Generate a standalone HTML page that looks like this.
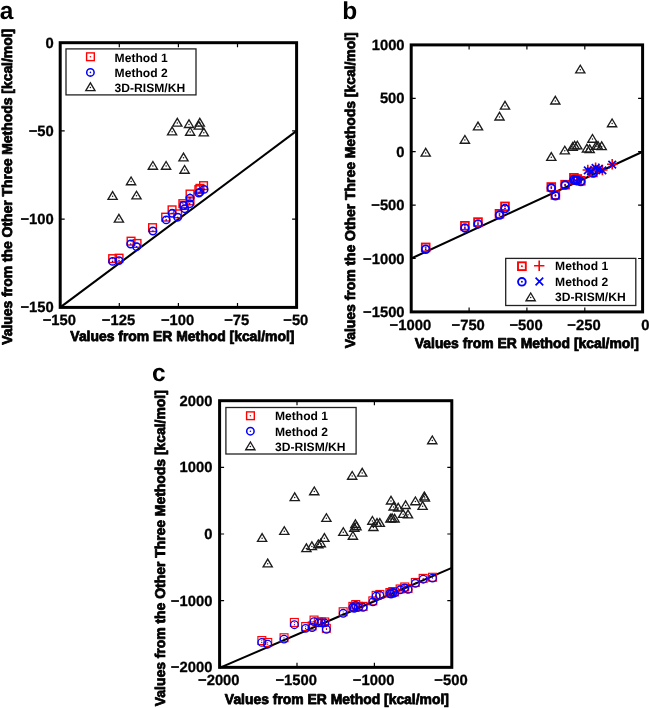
<!DOCTYPE html>
<html lang="en">
<head>
<meta charset="utf-8">
<title>Comparison of methods</title>
<style>
html,body{margin:0;padding:0;background:#fff;}
svg{display:block;font-family:"Liberation Sans", sans-serif;fill:#000;text-rendering:geometricPrecision;}
</style>
</head>
<body>
<svg width="649" height="708" viewBox="0 0 649 708">
<rect width="649" height="708" fill="#fff"/>
<g style="opacity:0.999">
<g id="panel-a">
<path d="M60.2 307.4L296.6 130.9" stroke="#000" stroke-width="2.1" fill="none"/>
<rect x="108.8" y="254.8" width="7.7" height="7.7" fill="none" stroke="#f00" stroke-width="1.4"/><circle cx="112.6" cy="258.6" r="0.8" fill="#f00"/>
<rect x="115.2" y="254.3" width="7.7" height="7.7" fill="none" stroke="#f00" stroke-width="1.4"/><circle cx="119.0" cy="258.2" r="0.8" fill="#f00"/>
<rect x="127.2" y="237.3" width="7.7" height="7.7" fill="none" stroke="#f00" stroke-width="1.4"/><circle cx="131.1" cy="241.2" r="0.8" fill="#f00"/>
<rect x="133.2" y="239.6" width="7.7" height="7.7" fill="none" stroke="#f00" stroke-width="1.4"/><circle cx="137.0" cy="243.4" r="0.8" fill="#f00"/>
<rect x="148.7" y="223.8" width="7.7" height="7.7" fill="none" stroke="#f00" stroke-width="1.4"/><circle cx="152.5" cy="227.7" r="0.8" fill="#f00"/>
<rect x="161.8" y="213.3" width="7.7" height="7.7" fill="none" stroke="#f00" stroke-width="1.4"/><circle cx="165.6" cy="217.2" r="0.8" fill="#f00"/>
<rect x="168.2" y="206.0" width="7.7" height="7.7" fill="none" stroke="#f00" stroke-width="1.4"/><circle cx="172.1" cy="209.8" r="0.8" fill="#f00"/>
<rect x="173.8" y="210.0" width="7.7" height="7.7" fill="none" stroke="#f00" stroke-width="1.4"/><circle cx="177.7" cy="213.8" r="0.8" fill="#f00"/>
<rect x="179.0" y="199.8" width="7.7" height="7.7" fill="none" stroke="#f00" stroke-width="1.4"/><circle cx="182.8" cy="203.7" r="0.8" fill="#f00"/>
<rect x="180.2" y="201.7" width="7.7" height="7.7" fill="none" stroke="#f00" stroke-width="1.4"/><circle cx="184.1" cy="205.5" r="0.8" fill="#f00"/>
<rect x="186.2" y="190.2" width="7.7" height="7.7" fill="none" stroke="#f00" stroke-width="1.4"/><circle cx="190.0" cy="194.0" r="0.8" fill="#f00"/>
<rect x="186.2" y="197.1" width="7.7" height="7.7" fill="none" stroke="#f00" stroke-width="1.4"/><circle cx="190.0" cy="200.9" r="0.8" fill="#f00"/>
<rect x="195.0" y="185.8" width="7.7" height="7.7" fill="none" stroke="#f00" stroke-width="1.4"/><circle cx="198.8" cy="189.6" r="0.8" fill="#f00"/>
<rect x="196.1" y="184.5" width="7.7" height="7.7" fill="none" stroke="#f00" stroke-width="1.4"/><circle cx="199.9" cy="188.3" r="0.8" fill="#f00"/>
<rect x="199.7" y="181.8" width="7.7" height="7.7" fill="none" stroke="#f00" stroke-width="1.4"/><circle cx="203.5" cy="185.7" r="0.8" fill="#f00"/>
<circle cx="112.6" cy="261.4" r="3.7" fill="none" stroke="#00f" stroke-width="1.55"/><circle cx="112.6" cy="261.4" r="0.8" fill="#00f"/>
<circle cx="119.0" cy="260.6" r="3.7" fill="none" stroke="#00f" stroke-width="1.55"/><circle cx="119.0" cy="260.6" r="0.8" fill="#00f"/>
<circle cx="130.7" cy="244.0" r="3.7" fill="none" stroke="#00f" stroke-width="1.55"/><circle cx="130.7" cy="244.0" r="0.8" fill="#00f"/>
<circle cx="136.6" cy="246.7" r="3.7" fill="none" stroke="#00f" stroke-width="1.55"/><circle cx="136.6" cy="246.7" r="0.8" fill="#00f"/>
<circle cx="152.9" cy="231.0" r="3.7" fill="none" stroke="#00f" stroke-width="1.55"/><circle cx="152.9" cy="231.0" r="0.8" fill="#00f"/>
<circle cx="166.2" cy="219.9" r="3.7" fill="none" stroke="#00f" stroke-width="1.55"/><circle cx="166.2" cy="219.9" r="0.8" fill="#00f"/>
<circle cx="172.1" cy="213.3" r="3.7" fill="none" stroke="#00f" stroke-width="1.55"/><circle cx="172.1" cy="213.3" r="0.8" fill="#00f"/>
<circle cx="177.7" cy="217.2" r="3.7" fill="none" stroke="#00f" stroke-width="1.55"/><circle cx="177.7" cy="217.2" r="0.8" fill="#00f"/>
<circle cx="183.6" cy="205.5" r="3.7" fill="none" stroke="#00f" stroke-width="1.55"/><circle cx="183.6" cy="205.5" r="0.8" fill="#00f"/>
<circle cx="184.7" cy="208.7" r="3.7" fill="none" stroke="#00f" stroke-width="1.55"/><circle cx="184.7" cy="208.7" r="0.8" fill="#00f"/>
<circle cx="190.0" cy="198.1" r="3.7" fill="none" stroke="#00f" stroke-width="1.55"/><circle cx="190.0" cy="198.1" r="0.8" fill="#00f"/>
<circle cx="189.7" cy="203.7" r="3.7" fill="none" stroke="#00f" stroke-width="1.55"/><circle cx="189.7" cy="203.7" r="0.8" fill="#00f"/>
<circle cx="198.8" cy="193.0" r="3.7" fill="none" stroke="#00f" stroke-width="1.55"/><circle cx="198.8" cy="193.0" r="0.8" fill="#00f"/>
<circle cx="199.9" cy="192.2" r="3.7" fill="none" stroke="#00f" stroke-width="1.55"/><circle cx="199.9" cy="192.2" r="0.8" fill="#00f"/>
<circle cx="204.1" cy="189.4" r="3.7" fill="none" stroke="#00f" stroke-width="1.55"/><circle cx="204.1" cy="189.4" r="0.8" fill="#00f"/>
<path d="M172.7 126.1L177.3 118.4L181.9 126.1Z" fill="none" stroke="#1c1c1c" stroke-width="1.35"/><circle cx="177.3" cy="123.0" r="0.75" fill="#1c1c1c"/>
<path d="M184.4 127.5L189.0 119.8L193.6 127.5Z" fill="none" stroke="#1c1c1c" stroke-width="1.35"/><circle cx="189.0" cy="124.4" r="0.75" fill="#1c1c1c"/>
<path d="M195.2 126.1L199.8 118.4L204.4 126.1Z" fill="none" stroke="#1c1c1c" stroke-width="1.35"/><circle cx="199.8" cy="123.0" r="0.75" fill="#1c1c1c"/>
<path d="M194.2 129.1L198.8 121.4L203.4 129.1Z" fill="none" stroke="#1c1c1c" stroke-width="1.35"/><circle cx="198.8" cy="126.0" r="0.75" fill="#1c1c1c"/>
<path d="M167.5 134.8L172.1 127.1L176.7 134.8Z" fill="none" stroke="#1c1c1c" stroke-width="1.35"/><circle cx="172.1" cy="131.7" r="0.75" fill="#1c1c1c"/>
<path d="M185.6 135.2L190.2 127.5L194.8 135.2Z" fill="none" stroke="#1c1c1c" stroke-width="1.35"/><circle cx="190.2" cy="132.1" r="0.75" fill="#1c1c1c"/>
<path d="M199.2 135.8L203.8 128.1L208.4 135.8Z" fill="none" stroke="#1c1c1c" stroke-width="1.35"/><circle cx="203.8" cy="132.7" r="0.75" fill="#1c1c1c"/>
<path d="M178.9 160.8L183.5 153.1L188.1 160.8Z" fill="none" stroke="#1c1c1c" stroke-width="1.35"/><circle cx="183.5" cy="157.7" r="0.75" fill="#1c1c1c"/>
<path d="M148.3 169.2L152.9 161.5L157.5 169.2Z" fill="none" stroke="#1c1c1c" stroke-width="1.35"/><circle cx="152.9" cy="166.1" r="0.75" fill="#1c1c1c"/>
<path d="M161.5 169.2L166.1 161.5L170.7 169.2Z" fill="none" stroke="#1c1c1c" stroke-width="1.35"/><circle cx="166.1" cy="166.1" r="0.75" fill="#1c1c1c"/>
<path d="M180.0 173.2L184.6 165.5L189.2 173.2Z" fill="none" stroke="#1c1c1c" stroke-width="1.35"/><circle cx="184.6" cy="170.1" r="0.75" fill="#1c1c1c"/>
<path d="M126.5 184.7L131.1 177.0L135.7 184.7Z" fill="none" stroke="#1c1c1c" stroke-width="1.35"/><circle cx="131.1" cy="181.6" r="0.75" fill="#1c1c1c"/>
<path d="M108.0 199.3L112.6 191.6L117.2 199.3Z" fill="none" stroke="#1c1c1c" stroke-width="1.35"/><circle cx="112.6" cy="196.2" r="0.75" fill="#1c1c1c"/>
<path d="M131.9 198.9L136.5 191.2L141.1 198.9Z" fill="none" stroke="#1c1c1c" stroke-width="1.35"/><circle cx="136.5" cy="195.8" r="0.75" fill="#1c1c1c"/>
<path d="M114.3 222.1L118.9 214.4L123.5 222.1Z" fill="none" stroke="#1c1c1c" stroke-width="1.35"/><circle cx="118.9" cy="219.0" r="0.75" fill="#1c1c1c"/>
<rect x="60.2" y="42.7" width="236.40000000000003" height="264.7" fill="none" stroke="#000" stroke-width="3.0"/><path d="M119.3 307.4v-4.5M119.3 42.7v4.5M178.4 307.4v-4.5M178.4 42.7v4.5M237.5 307.4v-4.5M237.5 42.7v4.5M60.2 130.9h4.5M296.6 130.9h-4.5M60.2 219.2h4.5M296.6 219.2h-4.5" stroke="#000" stroke-width="1.2" fill="none"/>
<rect x="66.0" y="48.9" width="130.0" height="46.0" fill="none" stroke="#222" stroke-width="1.3"/>
<rect x="86.6" y="52.9" width="7.7" height="7.7" fill="none" stroke="#f00" stroke-width="1.4"/><circle cx="90.4" cy="56.7" r="0.8" fill="#f00"/>
<circle cx="90.4" cy="72.4" r="3.7" fill="none" stroke="#00f" stroke-width="1.55"/><circle cx="90.4" cy="72.4" r="0.8" fill="#00f"/>
<path d="M85.8 90.6L90.4 82.9L95.0 90.6Z" fill="none" stroke="#1c1c1c" stroke-width="1.35"/><circle cx="90.4" cy="87.5" r="0.75" fill="#1c1c1c"/>
<text x="114.6" y="61.5" font-size="12.1" text-anchor="start" font-weight="bold">Method 1</text>
<text x="114.6" y="76.6" font-size="12.1" text-anchor="start" font-weight="bold">Method 2</text>
<text x="114.6" y="91.8" font-size="12.1" text-anchor="start" font-weight="bold">3D-RISM/KH</text>
<text x="59.4" y="325.0" font-size="14.8" text-anchor="middle" font-weight="bold" stroke="#000" stroke-width="0.3" stroke-linejoin="round">−150</text>
<text x="118.5" y="325.0" font-size="14.8" text-anchor="middle" font-weight="bold" stroke="#000" stroke-width="0.3" stroke-linejoin="round">−125</text>
<text x="177.6" y="325.0" font-size="14.8" text-anchor="middle" font-weight="bold" stroke="#000" stroke-width="0.3" stroke-linejoin="round">−100</text>
<text x="236.7" y="325.0" font-size="14.8" text-anchor="middle" font-weight="bold" stroke="#000" stroke-width="0.3" stroke-linejoin="round">−75</text>
<text x="295.8" y="325.0" font-size="14.8" text-anchor="middle" font-weight="bold" stroke="#000" stroke-width="0.3" stroke-linejoin="round">−50</text>
<text x="53.8" y="47.7" font-size="14.8" text-anchor="end" font-weight="bold" stroke="#000" stroke-width="0.3" stroke-linejoin="round">0</text>
<text x="53.8" y="135.9" font-size="14.8" text-anchor="end" font-weight="bold" stroke="#000" stroke-width="0.3" stroke-linejoin="round">−50</text>
<text x="53.8" y="224.2" font-size="14.8" text-anchor="end" font-weight="bold" stroke="#000" stroke-width="0.3" stroke-linejoin="round">−100</text>
<text x="53.8" y="312.4" font-size="14.8" text-anchor="end" font-weight="bold" stroke="#000" stroke-width="0.3" stroke-linejoin="round">−150</text>
<text transform="translate(182.4 340.9) scale(0.98 1)" font-size="14.2" text-anchor="middle" font-weight="bold" stroke="#000" stroke-width="0.8" stroke-linejoin="round">Values from ER Method [kcal/mol]</text>
<text transform="translate(12.4 186.8) rotate(-90) scale(0.98 1)" font-size="14.2" text-anchor="middle" font-weight="bold" stroke="#000" stroke-width="0.8" stroke-linejoin="round">Values from the Other Three Methods [kcal/mol]</text>
<text x="-0.3" y="18.6" font-size="24.5" text-anchor="start" font-weight="bold">a</text>
</g>
<g id="panel-b">
<path d="M411.2 258.5L642.6 151.7" stroke="#000" stroke-width="2.1" fill="none"/>
<rect x="421.8" y="243.5" width="7.8" height="7.8" fill="none" stroke="#f00" stroke-width="1.8"/><circle cx="425.7" cy="247.4" r="0.95" fill="#f00"/>
<rect x="461.0" y="221.9" width="7.8" height="7.8" fill="none" stroke="#f00" stroke-width="1.8"/><circle cx="464.9" cy="225.8" r="0.95" fill="#f00"/>
<rect x="474.1" y="218.2" width="7.8" height="7.8" fill="none" stroke="#f00" stroke-width="1.8"/><circle cx="478.0" cy="222.1" r="0.95" fill="#f00"/>
<rect x="495.6" y="209.9" width="7.8" height="7.8" fill="none" stroke="#f00" stroke-width="1.8"/><circle cx="499.5" cy="213.8" r="0.95" fill="#f00"/>
<rect x="501.1" y="202.5" width="7.8" height="7.8" fill="none" stroke="#f00" stroke-width="1.8"/><circle cx="505.0" cy="206.4" r="0.95" fill="#f00"/>
<rect x="547.4" y="183.1" width="7.8" height="7.8" fill="none" stroke="#f00" stroke-width="1.8"/><circle cx="551.3" cy="187.0" r="0.95" fill="#f00"/>
<rect x="551.5" y="191.1" width="7.8" height="7.8" fill="none" stroke="#f00" stroke-width="1.8"/><circle cx="555.4" cy="195.0" r="0.95" fill="#f00"/>
<rect x="561.2" y="180.8" width="7.8" height="7.8" fill="none" stroke="#f00" stroke-width="1.8"/><circle cx="565.1" cy="184.7" r="0.95" fill="#f00"/>
<rect x="570.0" y="173.9" width="7.8" height="7.8" fill="none" stroke="#f00" stroke-width="1.8"/><circle cx="573.9" cy="177.8" r="0.95" fill="#f00"/>
<rect x="570.8" y="175.9" width="7.8" height="7.8" fill="none" stroke="#f00" stroke-width="1.8"/><circle cx="574.7" cy="179.8" r="0.95" fill="#f00"/>
<rect x="576.9" y="176.9" width="7.8" height="7.8" fill="none" stroke="#f00" stroke-width="1.8"/><circle cx="580.8" cy="180.8" r="0.95" fill="#f00"/>
<rect x="573.4" y="175.1" width="7.8" height="7.8" fill="none" stroke="#f00" stroke-width="1.8"/><circle cx="577.3" cy="179.0" r="0.95" fill="#f00"/>
<rect x="589.0" y="168.6" width="7.8" height="7.8" fill="none" stroke="#f00" stroke-width="1.8"/><circle cx="592.9" cy="172.5" r="0.95" fill="#f00"/>
<circle cx="425.7" cy="249.3" r="3.85" fill="none" stroke="#00f" stroke-width="1.8"/><circle cx="425.7" cy="249.3" r="0.95" fill="#00f"/>
<circle cx="464.9" cy="228.0" r="3.85" fill="none" stroke="#00f" stroke-width="1.8"/><circle cx="464.9" cy="228.0" r="0.95" fill="#00f"/>
<circle cx="478.0" cy="224.0" r="3.85" fill="none" stroke="#00f" stroke-width="1.8"/><circle cx="478.0" cy="224.0" r="0.95" fill="#00f"/>
<circle cx="499.5" cy="215.1" r="3.85" fill="none" stroke="#00f" stroke-width="1.8"/><circle cx="499.5" cy="215.1" r="0.95" fill="#00f"/>
<circle cx="505.0" cy="208.6" r="3.85" fill="none" stroke="#00f" stroke-width="1.8"/><circle cx="505.0" cy="208.6" r="0.95" fill="#00f"/>
<circle cx="551.3" cy="188.1" r="3.85" fill="none" stroke="#00f" stroke-width="1.8"/><circle cx="551.3" cy="188.1" r="0.95" fill="#00f"/>
<circle cx="555.4" cy="195.8" r="3.85" fill="none" stroke="#00f" stroke-width="1.8"/><circle cx="555.4" cy="195.8" r="0.95" fill="#00f"/>
<circle cx="565.1" cy="185.1" r="3.85" fill="none" stroke="#00f" stroke-width="1.8"/><circle cx="565.1" cy="185.1" r="0.95" fill="#00f"/>
<circle cx="573.9" cy="179.8" r="3.85" fill="none" stroke="#00f" stroke-width="1.8"/><circle cx="573.9" cy="179.8" r="0.95" fill="#00f"/>
<circle cx="575.5" cy="180.4" r="3.85" fill="none" stroke="#00f" stroke-width="1.8"/><circle cx="575.5" cy="180.4" r="0.95" fill="#00f"/>
<circle cx="580.8" cy="181.6" r="3.85" fill="none" stroke="#00f" stroke-width="1.8"/><circle cx="580.8" cy="181.6" r="0.95" fill="#00f"/>
<circle cx="577.3" cy="180.2" r="3.85" fill="none" stroke="#00f" stroke-width="1.8"/><circle cx="577.3" cy="180.2" r="0.95" fill="#00f"/>
<circle cx="593.2" cy="173.1" r="3.85" fill="none" stroke="#00f" stroke-width="1.8"/><circle cx="593.2" cy="173.1" r="0.95" fill="#00f"/>
<path d="M582.6 170.0H593.0M587.8 164.8V175.2" stroke="#f00" stroke-width="1.6" fill="none"/>
<path d="M585.8 171.0H596.2M591.0 165.8V176.2" stroke="#f00" stroke-width="1.6" fill="none"/>
<path d="M590.4 167.6H600.8M595.6 162.4V172.8" stroke="#f00" stroke-width="1.6" fill="none"/>
<path d="M593.6 168.6H604.0M598.8 163.4V173.8" stroke="#f00" stroke-width="1.6" fill="none"/>
<path d="M597.2 170.0H607.6M602.4 164.8V175.2" stroke="#f00" stroke-width="1.6" fill="none"/>
<path d="M607.0 164.2H617.4M612.2 159.0V169.4" stroke="#f00" stroke-width="1.6" fill="none"/>
<path d="M584.0 166.6L591.6 174.2M584.0 174.2L591.6 166.6" stroke="#00f" stroke-width="1.7" fill="none"/>
<path d="M587.2 167.6L594.8 175.2M587.2 175.2L594.8 167.6" stroke="#00f" stroke-width="1.7" fill="none"/>
<path d="M591.8 164.2L599.4 171.8M591.8 171.8L599.4 164.2" stroke="#00f" stroke-width="1.7" fill="none"/>
<path d="M595.0 165.2L602.6 172.8M595.0 172.8L602.6 165.2" stroke="#00f" stroke-width="1.7" fill="none"/>
<path d="M598.6 166.6L606.2 174.2M598.6 174.2L606.2 166.6" stroke="#00f" stroke-width="1.7" fill="none"/>
<path d="M608.4 160.8L616.0 168.4M608.4 168.4L616.0 160.8" stroke="#00f" stroke-width="1.7" fill="none"/>
<path d="M421.1 156.1L425.7 148.4L430.3 156.1Z" fill="none" stroke="#1c1c1c" stroke-width="1.35"/><circle cx="425.7" cy="153.0" r="0.75" fill="#1c1c1c"/>
<path d="M460.3 143.2L464.9 135.5L469.5 143.2Z" fill="none" stroke="#1c1c1c" stroke-width="1.35"/><circle cx="464.9" cy="140.1" r="0.75" fill="#1c1c1c"/>
<path d="M473.4 129.8L478.0 122.1L482.6 129.8Z" fill="none" stroke="#1c1c1c" stroke-width="1.35"/><circle cx="478.0" cy="126.7" r="0.75" fill="#1c1c1c"/>
<path d="M494.9 120.0L499.5 112.3L504.1 120.0Z" fill="none" stroke="#1c1c1c" stroke-width="1.35"/><circle cx="499.5" cy="116.9" r="0.75" fill="#1c1c1c"/>
<path d="M500.4 109.1L505.0 101.4L509.6 109.1Z" fill="none" stroke="#1c1c1c" stroke-width="1.35"/><circle cx="505.0" cy="106.0" r="0.75" fill="#1c1c1c"/>
<path d="M575.7 72.9L580.3 65.2L584.9 72.9Z" fill="none" stroke="#1c1c1c" stroke-width="1.35"/><circle cx="580.3" cy="69.8" r="0.75" fill="#1c1c1c"/>
<path d="M550.7 104.0L555.3 96.3L559.9 104.0Z" fill="none" stroke="#1c1c1c" stroke-width="1.35"/><circle cx="555.3" cy="100.9" r="0.75" fill="#1c1c1c"/>
<path d="M607.5 126.7L612.1 119.0L616.7 126.7Z" fill="none" stroke="#1c1c1c" stroke-width="1.35"/><circle cx="612.1" cy="123.6" r="0.75" fill="#1c1c1c"/>
<path d="M587.9 142.2L592.5 134.5L597.1 142.2Z" fill="none" stroke="#1c1c1c" stroke-width="1.35"/><circle cx="592.5" cy="139.1" r="0.75" fill="#1c1c1c"/>
<path d="M546.7 160.3L551.3 152.6L555.9 160.3Z" fill="none" stroke="#1c1c1c" stroke-width="1.35"/><circle cx="551.3" cy="157.2" r="0.75" fill="#1c1c1c"/>
<path d="M560.2 153.9L564.8 146.2L569.4 153.9Z" fill="none" stroke="#1c1c1c" stroke-width="1.35"/><circle cx="564.8" cy="150.8" r="0.75" fill="#1c1c1c"/>
<path d="M568.1 150.2L572.7 142.5L577.3 150.2Z" fill="none" stroke="#1c1c1c" stroke-width="1.35"/><circle cx="572.7" cy="147.1" r="0.75" fill="#1c1c1c"/>
<path d="M570.0 148.9L574.6 141.2L579.2 148.9Z" fill="none" stroke="#1c1c1c" stroke-width="1.35"/><circle cx="574.6" cy="145.8" r="0.75" fill="#1c1c1c"/>
<path d="M572.7 148.9L577.3 141.2L581.9 148.9Z" fill="none" stroke="#1c1c1c" stroke-width="1.35"/><circle cx="577.3" cy="145.8" r="0.75" fill="#1c1c1c"/>
<path d="M582.3 152.0L586.9 144.3L591.5 152.0Z" fill="none" stroke="#1c1c1c" stroke-width="1.35"/><circle cx="586.9" cy="148.9" r="0.75" fill="#1c1c1c"/>
<path d="M585.1 152.6L589.7 144.9L594.3 152.6Z" fill="none" stroke="#1c1c1c" stroke-width="1.35"/><circle cx="589.7" cy="149.5" r="0.75" fill="#1c1c1c"/>
<path d="M591.6 149.3L596.2 141.6L600.8 149.3Z" fill="none" stroke="#1c1c1c" stroke-width="1.35"/><circle cx="596.2" cy="146.2" r="0.75" fill="#1c1c1c"/>
<path d="M593.4 149.3L598.0 141.6L602.6 149.3Z" fill="none" stroke="#1c1c1c" stroke-width="1.35"/><circle cx="598.0" cy="146.2" r="0.75" fill="#1c1c1c"/>
<path d="M597.1 149.6L601.7 141.9L606.3 149.6Z" fill="none" stroke="#1c1c1c" stroke-width="1.35"/><circle cx="601.7" cy="146.5" r="0.75" fill="#1c1c1c"/>
<rect x="411.2" y="44.9" width="231.40000000000003" height="267.0" fill="none" stroke="#000" stroke-width="3.0"/><path d="M469.1 311.9v-4.5M469.1 44.9v4.5M526.9 311.9v-4.5M526.9 44.9v4.5M584.8 311.9v-4.5M584.8 44.9v4.5M411.2 98.3h4.5M642.6 98.3h-4.5M411.2 151.7h4.5M642.6 151.7h-4.5M411.2 205.1h4.5M642.6 205.1h-4.5M411.2 258.5h4.5M642.6 258.5h-4.5" stroke="#000" stroke-width="1.2" fill="none"/>
<rect x="505.7" y="258.4" width="130.1" height="47.1" fill="none" stroke="#222" stroke-width="1.3"/>
<rect x="518.0" y="262.3" width="7.8" height="7.8" fill="none" stroke="#f00" stroke-width="1.9"/><circle cx="521.9" cy="266.2" r="0.95" fill="#f00"/>
<path d="M534.0 265.7H544.4M539.2 260.5V270.9" stroke="#f00" stroke-width="1.6" fill="none"/>
<circle cx="521.9" cy="281.8" r="3.85" fill="none" stroke="#00f" stroke-width="1.9"/><circle cx="521.9" cy="281.8" r="0.95" fill="#00f"/>
<path d="M535.6 277.7L543.2 285.3M535.6 285.3L543.2 277.7" stroke="#00f" stroke-width="1.7" fill="none"/>
<path d="M526.1 300.7L530.7 293.0L535.3 300.7Z" fill="none" stroke="#1c1c1c" stroke-width="1.35"/><circle cx="530.7" cy="297.6" r="0.75" fill="#1c1c1c"/>
<text x="555.1" y="270.3" font-size="12.1" text-anchor="start" font-weight="bold">Method 1</text>
<text x="555.1" y="285.7" font-size="12.1" text-anchor="start" font-weight="bold">Method 2</text>
<text x="555.1" y="301.4" font-size="12.1" text-anchor="start" font-weight="bold">3D-RISM/KH</text>
<text x="410.4" y="329.5" font-size="14.8" text-anchor="middle" font-weight="bold" stroke="#000" stroke-width="0.3" stroke-linejoin="round">−1000</text>
<text x="468.2" y="329.5" font-size="14.8" text-anchor="middle" font-weight="bold" stroke="#000" stroke-width="0.3" stroke-linejoin="round">−750</text>
<text x="526.1" y="329.5" font-size="14.8" text-anchor="middle" font-weight="bold" stroke="#000" stroke-width="0.3" stroke-linejoin="round">−500</text>
<text x="584.0" y="329.5" font-size="14.8" text-anchor="middle" font-weight="bold" stroke="#000" stroke-width="0.3" stroke-linejoin="round">−250</text>
<text x="645.4" y="329.5" font-size="14.8" text-anchor="middle" font-weight="bold" stroke="#000" stroke-width="0.3" stroke-linejoin="round">0</text>
<text x="404.6" y="49.9" font-size="14.8" text-anchor="end" font-weight="bold" stroke="#000" stroke-width="0.3" stroke-linejoin="round">1000</text>
<text x="404.6" y="103.3" font-size="14.8" text-anchor="end" font-weight="bold" stroke="#000" stroke-width="0.3" stroke-linejoin="round">500</text>
<text x="404.6" y="156.7" font-size="14.8" text-anchor="end" font-weight="bold" stroke="#000" stroke-width="0.3" stroke-linejoin="round">0</text>
<text x="404.6" y="210.1" font-size="14.8" text-anchor="end" font-weight="bold" stroke="#000" stroke-width="0.3" stroke-linejoin="round">−500</text>
<text x="404.6" y="263.5" font-size="14.8" text-anchor="end" font-weight="bold" stroke="#000" stroke-width="0.3" stroke-linejoin="round">−1000</text>
<text x="404.6" y="316.9" font-size="14.8" text-anchor="end" font-weight="bold" stroke="#000" stroke-width="0.3" stroke-linejoin="round">−1500</text>
<text transform="translate(526.8 348.4) scale(0.98 1)" font-size="14.2" text-anchor="middle" font-weight="bold" stroke="#000" stroke-width="0.8" stroke-linejoin="round">Values from ER Method [kcal/mol]</text>
<text transform="translate(355.3 190.3) rotate(-90) scale(0.98 1)" font-size="14.2" text-anchor="middle" font-weight="bold" stroke="#000" stroke-width="0.8" stroke-linejoin="round">Values from the Other Three Methods [kcal/mol]</text>
<text x="342.2" y="18.6" font-size="24.5" text-anchor="start" font-weight="bold">b</text>
</g>
<g id="panel-c">
<path d="M219.6 667.85L451.8 567.9" stroke="#000" stroke-width="2.1" fill="none"/>
<rect x="257.9" y="636.6" width="7.9" height="7.9" fill="none" stroke="#f00" stroke-width="1.15"/><circle cx="261.8" cy="640.6" r="0.6" fill="#f00"/>
<rect x="263.8" y="638.5" width="7.9" height="7.9" fill="none" stroke="#f00" stroke-width="1.15"/><circle cx="267.7" cy="642.5" r="0.6" fill="#f00"/>
<rect x="280.1" y="633.8" width="7.9" height="7.9" fill="none" stroke="#f00" stroke-width="1.15"/><circle cx="284.0" cy="637.7" r="0.6" fill="#f00"/>
<rect x="290.4" y="618.5" width="7.9" height="7.9" fill="none" stroke="#f00" stroke-width="1.15"/><circle cx="294.4" cy="622.5" r="0.6" fill="#f00"/>
<rect x="301.7" y="622.6" width="7.9" height="7.9" fill="none" stroke="#f00" stroke-width="1.15"/><circle cx="305.6" cy="626.6" r="0.6" fill="#f00"/>
<rect x="310.1" y="616.1" width="7.9" height="7.9" fill="none" stroke="#f00" stroke-width="1.15"/><circle cx="314.0" cy="620.1" r="0.6" fill="#f00"/>
<rect x="308.2" y="622.0" width="7.9" height="7.9" fill="none" stroke="#f00" stroke-width="1.15"/><circle cx="312.1" cy="626.0" r="0.6" fill="#f00"/>
<rect x="314.7" y="618.0" width="7.9" height="7.9" fill="none" stroke="#f00" stroke-width="1.15"/><circle cx="318.6" cy="622.0" r="0.6" fill="#f00"/>
<rect x="317.4" y="618.0" width="7.9" height="7.9" fill="none" stroke="#f00" stroke-width="1.15"/><circle cx="321.4" cy="622.0" r="0.6" fill="#f00"/>
<rect x="320.8" y="618.0" width="7.9" height="7.9" fill="none" stroke="#f00" stroke-width="1.15"/><circle cx="324.7" cy="622.0" r="0.6" fill="#f00"/>
<rect x="322.4" y="624.4" width="7.9" height="7.9" fill="none" stroke="#f00" stroke-width="1.15"/><circle cx="326.4" cy="628.4" r="0.6" fill="#f00"/>
<rect x="339.2" y="607.8" width="7.9" height="7.9" fill="none" stroke="#f00" stroke-width="1.15"/><circle cx="343.2" cy="611.8" r="0.6" fill="#f00"/>
<rect x="348.9" y="602.4" width="7.9" height="7.9" fill="none" stroke="#f00" stroke-width="1.15"/><circle cx="352.9" cy="606.4" r="0.6" fill="#f00"/>
<rect x="351.8" y="600.6" width="7.9" height="7.9" fill="none" stroke="#f00" stroke-width="1.15"/><circle cx="355.7" cy="604.6" r="0.6" fill="#f00"/>
<rect x="354.6" y="602.4" width="7.9" height="7.9" fill="none" stroke="#f00" stroke-width="1.15"/><circle cx="358.5" cy="606.4" r="0.6" fill="#f00"/>
<rect x="359.2" y="602.4" width="7.9" height="7.9" fill="none" stroke="#f00" stroke-width="1.15"/><circle cx="363.1" cy="606.4" r="0.6" fill="#f00"/>
<rect x="368.9" y="596.9" width="7.9" height="7.9" fill="none" stroke="#f00" stroke-width="1.15"/><circle cx="372.9" cy="600.9" r="0.6" fill="#f00"/>
<rect x="372.2" y="591.4" width="7.9" height="7.9" fill="none" stroke="#f00" stroke-width="1.15"/><circle cx="376.1" cy="595.4" r="0.6" fill="#f00"/>
<rect x="375.9" y="590.5" width="7.9" height="7.9" fill="none" stroke="#f00" stroke-width="1.15"/><circle cx="379.8" cy="594.5" r="0.6" fill="#f00"/>
<rect x="385.9" y="588.6" width="7.9" height="7.9" fill="none" stroke="#f00" stroke-width="1.15"/><circle cx="389.9" cy="592.6" r="0.6" fill="#f00"/>
<rect x="388.8" y="587.6" width="7.9" height="7.9" fill="none" stroke="#f00" stroke-width="1.15"/><circle cx="392.7" cy="591.6" r="0.6" fill="#f00"/>
<rect x="390.6" y="588.0" width="7.9" height="7.9" fill="none" stroke="#f00" stroke-width="1.15"/><circle cx="394.5" cy="592.0" r="0.6" fill="#f00"/>
<rect x="396.2" y="585.0" width="7.9" height="7.9" fill="none" stroke="#f00" stroke-width="1.15"/><circle cx="400.1" cy="589.0" r="0.6" fill="#f00"/>
<rect x="400.8" y="583.0" width="7.9" height="7.9" fill="none" stroke="#f00" stroke-width="1.15"/><circle cx="404.7" cy="587.0" r="0.6" fill="#f00"/>
<rect x="404.1" y="584.6" width="7.9" height="7.9" fill="none" stroke="#f00" stroke-width="1.15"/><circle cx="408.0" cy="588.6" r="0.6" fill="#f00"/>
<rect x="411.4" y="578.5" width="7.9" height="7.9" fill="none" stroke="#f00" stroke-width="1.15"/><circle cx="415.4" cy="582.5" r="0.6" fill="#f00"/>
<rect x="419.2" y="574.4" width="7.9" height="7.9" fill="none" stroke="#f00" stroke-width="1.15"/><circle cx="423.2" cy="578.4" r="0.6" fill="#f00"/>
<rect x="428.6" y="573.3" width="7.9" height="7.9" fill="none" stroke="#f00" stroke-width="1.15"/><circle cx="432.5" cy="577.3" r="0.6" fill="#f00"/>
<rect x="350.2" y="603.5" width="7.9" height="7.9" fill="none" stroke="#f00" stroke-width="1.15"/><circle cx="354.2" cy="607.5" r="0.6" fill="#f00"/>
<rect x="387.1" y="589.2" width="7.9" height="7.9" fill="none" stroke="#f00" stroke-width="1.15"/><circle cx="391.0" cy="593.2" r="0.6" fill="#f00"/>
<circle cx="261.8" cy="642.4" r="3.8" fill="none" stroke="#00f" stroke-width="1.3"/><circle cx="261.8" cy="642.4" r="0.6" fill="#00f"/>
<circle cx="267.7" cy="644.2" r="3.8" fill="none" stroke="#00f" stroke-width="1.3"/><circle cx="267.7" cy="644.2" r="0.6" fill="#00f"/>
<circle cx="284.0" cy="639.1" r="3.8" fill="none" stroke="#00f" stroke-width="1.3"/><circle cx="284.0" cy="639.1" r="0.6" fill="#00f"/>
<circle cx="294.4" cy="624.7" r="3.8" fill="none" stroke="#00f" stroke-width="1.3"/><circle cx="294.4" cy="624.7" r="0.6" fill="#00f"/>
<circle cx="305.6" cy="628.4" r="3.8" fill="none" stroke="#00f" stroke-width="1.3"/><circle cx="305.6" cy="628.4" r="0.6" fill="#00f"/>
<circle cx="314.0" cy="621.6" r="3.8" fill="none" stroke="#00f" stroke-width="1.3"/><circle cx="314.0" cy="621.6" r="0.6" fill="#00f"/>
<circle cx="312.1" cy="627.5" r="3.8" fill="none" stroke="#00f" stroke-width="1.3"/><circle cx="312.1" cy="627.5" r="0.6" fill="#00f"/>
<circle cx="318.6" cy="622.9" r="3.8" fill="none" stroke="#00f" stroke-width="1.3"/><circle cx="318.6" cy="622.9" r="0.6" fill="#00f"/>
<circle cx="321.4" cy="622.9" r="3.8" fill="none" stroke="#00f" stroke-width="1.3"/><circle cx="321.4" cy="622.9" r="0.6" fill="#00f"/>
<circle cx="324.7" cy="622.9" r="3.8" fill="none" stroke="#00f" stroke-width="1.3"/><circle cx="324.7" cy="622.9" r="0.6" fill="#00f"/>
<circle cx="326.4" cy="629.3" r="3.8" fill="none" stroke="#00f" stroke-width="1.3"/><circle cx="326.4" cy="629.3" r="0.6" fill="#00f"/>
<circle cx="343.2" cy="613.3" r="3.8" fill="none" stroke="#00f" stroke-width="1.3"/><circle cx="343.2" cy="613.3" r="0.6" fill="#00f"/>
<circle cx="352.9" cy="607.3" r="3.8" fill="none" stroke="#00f" stroke-width="1.3"/><circle cx="352.9" cy="607.3" r="0.6" fill="#00f"/>
<circle cx="355.7" cy="605.5" r="3.8" fill="none" stroke="#00f" stroke-width="1.3"/><circle cx="355.7" cy="605.5" r="0.6" fill="#00f"/>
<circle cx="358.5" cy="607.3" r="3.8" fill="none" stroke="#00f" stroke-width="1.3"/><circle cx="358.5" cy="607.3" r="0.6" fill="#00f"/>
<circle cx="363.1" cy="607.3" r="3.8" fill="none" stroke="#00f" stroke-width="1.3"/><circle cx="363.1" cy="607.3" r="0.6" fill="#00f"/>
<circle cx="372.9" cy="601.8" r="3.8" fill="none" stroke="#00f" stroke-width="1.3"/><circle cx="372.9" cy="601.8" r="0.6" fill="#00f"/>
<circle cx="376.1" cy="596.2" r="3.8" fill="none" stroke="#00f" stroke-width="1.3"/><circle cx="376.1" cy="596.2" r="0.6" fill="#00f"/>
<circle cx="379.8" cy="595.3" r="3.8" fill="none" stroke="#00f" stroke-width="1.3"/><circle cx="379.8" cy="595.3" r="0.6" fill="#00f"/>
<circle cx="389.9" cy="593.5" r="3.8" fill="none" stroke="#00f" stroke-width="1.3"/><circle cx="389.9" cy="593.5" r="0.6" fill="#00f"/>
<circle cx="392.7" cy="592.5" r="3.8" fill="none" stroke="#00f" stroke-width="1.3"/><circle cx="392.7" cy="592.5" r="0.6" fill="#00f"/>
<circle cx="394.5" cy="592.9" r="3.8" fill="none" stroke="#00f" stroke-width="1.3"/><circle cx="394.5" cy="592.9" r="0.6" fill="#00f"/>
<circle cx="400.1" cy="589.8" r="3.8" fill="none" stroke="#00f" stroke-width="1.3"/><circle cx="400.1" cy="589.8" r="0.6" fill="#00f"/>
<circle cx="404.7" cy="587.9" r="3.8" fill="none" stroke="#00f" stroke-width="1.3"/><circle cx="404.7" cy="587.9" r="0.6" fill="#00f"/>
<circle cx="408.0" cy="589.4" r="3.8" fill="none" stroke="#00f" stroke-width="1.3"/><circle cx="408.0" cy="589.4" r="0.6" fill="#00f"/>
<circle cx="415.4" cy="583.3" r="3.8" fill="none" stroke="#00f" stroke-width="1.3"/><circle cx="415.4" cy="583.3" r="0.6" fill="#00f"/>
<circle cx="423.2" cy="579.2" r="3.8" fill="none" stroke="#00f" stroke-width="1.3"/><circle cx="423.2" cy="579.2" r="0.6" fill="#00f"/>
<circle cx="432.5" cy="578.1" r="3.8" fill="none" stroke="#00f" stroke-width="1.3"/><circle cx="432.5" cy="578.1" r="0.6" fill="#00f"/>
<circle cx="354.2" cy="608.3" r="3.8" fill="none" stroke="#00f" stroke-width="1.3"/><circle cx="354.2" cy="608.3" r="0.6" fill="#00f"/>
<circle cx="391.0" cy="594.0" r="3.8" fill="none" stroke="#00f" stroke-width="1.3"/><circle cx="391.0" cy="594.0" r="0.6" fill="#00f"/>
<path d="M290.1 500.6L294.7 492.9L299.3 500.6Z" fill="none" stroke="#1c1c1c" stroke-width="1.35"/><circle cx="294.7" cy="497.5" r="0.75" fill="#1c1c1c"/>
<path d="M309.7 494.7L314.3 487.0L318.9 494.7Z" fill="none" stroke="#1c1c1c" stroke-width="1.35"/><circle cx="314.3" cy="491.6" r="0.75" fill="#1c1c1c"/>
<path d="M321.8 521.4L326.4 513.7L331.0 521.4Z" fill="none" stroke="#1c1c1c" stroke-width="1.35"/><circle cx="326.4" cy="518.3" r="0.75" fill="#1c1c1c"/>
<path d="M279.7 534.4L284.3 526.7L288.9 534.4Z" fill="none" stroke="#1c1c1c" stroke-width="1.35"/><circle cx="284.3" cy="531.3" r="0.75" fill="#1c1c1c"/>
<path d="M257.5 541.3L262.1 533.6L266.7 541.3Z" fill="none" stroke="#1c1c1c" stroke-width="1.35"/><circle cx="262.1" cy="538.2" r="0.75" fill="#1c1c1c"/>
<path d="M319.8 541.3L324.4 533.6L329.0 541.3Z" fill="none" stroke="#1c1c1c" stroke-width="1.35"/><circle cx="324.4" cy="538.2" r="0.75" fill="#1c1c1c"/>
<path d="M301.8 551.6L306.4 543.9L311.0 551.6Z" fill="none" stroke="#1c1c1c" stroke-width="1.35"/><circle cx="306.4" cy="548.5" r="0.75" fill="#1c1c1c"/>
<path d="M307.3 549.6L311.9 541.9L316.5 549.6Z" fill="none" stroke="#1c1c1c" stroke-width="1.35"/><circle cx="311.9" cy="546.5" r="0.75" fill="#1c1c1c"/>
<path d="M313.7 547.7L318.3 540.0L322.9 547.7Z" fill="none" stroke="#1c1c1c" stroke-width="1.35"/><circle cx="318.3" cy="544.6" r="0.75" fill="#1c1c1c"/>
<path d="M316.2 546.7L320.8 539.0L325.4 546.7Z" fill="none" stroke="#1c1c1c" stroke-width="1.35"/><circle cx="320.8" cy="543.6" r="0.75" fill="#1c1c1c"/>
<path d="M263.1 566.8L267.7 559.1L272.3 566.8Z" fill="none" stroke="#1c1c1c" stroke-width="1.35"/><circle cx="267.7" cy="563.7" r="0.75" fill="#1c1c1c"/>
<path d="M427.7 443.7L432.3 436.0L436.9 443.7Z" fill="none" stroke="#1c1c1c" stroke-width="1.35"/><circle cx="432.3" cy="440.6" r="0.75" fill="#1c1c1c"/>
<path d="M347.6 479.2L352.2 471.5L356.8 479.2Z" fill="none" stroke="#1c1c1c" stroke-width="1.35"/><circle cx="352.2" cy="476.1" r="0.75" fill="#1c1c1c"/>
<path d="M357.6 476.1L362.2 468.4L366.8 476.1Z" fill="none" stroke="#1c1c1c" stroke-width="1.35"/><circle cx="362.2" cy="473.0" r="0.75" fill="#1c1c1c"/>
<path d="M386.4 504.0L391.0 496.3L395.6 504.0Z" fill="none" stroke="#1c1c1c" stroke-width="1.35"/><circle cx="391.0" cy="500.9" r="0.75" fill="#1c1c1c"/>
<path d="M389.0 510.0L393.6 502.3L398.2 510.0Z" fill="none" stroke="#1c1c1c" stroke-width="1.35"/><circle cx="393.6" cy="506.9" r="0.75" fill="#1c1c1c"/>
<path d="M393.6 511.0L398.2 503.3L402.8 511.0Z" fill="none" stroke="#1c1c1c" stroke-width="1.35"/><circle cx="398.2" cy="507.9" r="0.75" fill="#1c1c1c"/>
<path d="M401.0 508.5L405.6 500.8L410.2 508.5Z" fill="none" stroke="#1c1c1c" stroke-width="1.35"/><circle cx="405.6" cy="505.4" r="0.75" fill="#1c1c1c"/>
<path d="M410.8 504.7L415.4 497.0L420.0 504.7Z" fill="none" stroke="#1c1c1c" stroke-width="1.35"/><circle cx="415.4" cy="501.6" r="0.75" fill="#1c1c1c"/>
<path d="M418.0 509.3L422.6 501.6L427.2 509.3Z" fill="none" stroke="#1c1c1c" stroke-width="1.35"/><circle cx="422.6" cy="506.2" r="0.75" fill="#1c1c1c"/>
<path d="M419.7 499.8L424.3 492.1L428.9 499.8Z" fill="none" stroke="#1c1c1c" stroke-width="1.35"/><circle cx="424.3" cy="496.7" r="0.75" fill="#1c1c1c"/>
<path d="M420.3 501.1L424.9 493.4L429.5 501.1Z" fill="none" stroke="#1c1c1c" stroke-width="1.35"/><circle cx="424.9" cy="498.0" r="0.75" fill="#1c1c1c"/>
<path d="M398.5 517.4L403.1 509.7L407.7 517.4Z" fill="none" stroke="#1c1c1c" stroke-width="1.35"/><circle cx="403.1" cy="514.3" r="0.75" fill="#1c1c1c"/>
<path d="M403.4 517.8L408.0 510.1L412.6 517.8Z" fill="none" stroke="#1c1c1c" stroke-width="1.35"/><circle cx="408.0" cy="514.7" r="0.75" fill="#1c1c1c"/>
<path d="M385.8 522.0L390.4 514.3L395.0 522.0Z" fill="none" stroke="#1c1c1c" stroke-width="1.35"/><circle cx="390.4" cy="518.9" r="0.75" fill="#1c1c1c"/>
<path d="M387.5 521.6L392.1 513.9L396.7 521.6Z" fill="none" stroke="#1c1c1c" stroke-width="1.35"/><circle cx="392.1" cy="518.5" r="0.75" fill="#1c1c1c"/>
<path d="M390.0 522.0L394.6 514.3L399.2 522.0Z" fill="none" stroke="#1c1c1c" stroke-width="1.35"/><circle cx="394.6" cy="518.9" r="0.75" fill="#1c1c1c"/>
<path d="M367.8 524.2L372.4 516.5L377.0 524.2Z" fill="none" stroke="#1c1c1c" stroke-width="1.35"/><circle cx="372.4" cy="521.1" r="0.75" fill="#1c1c1c"/>
<path d="M372.4 526.3L377.0 518.6L381.6 526.3Z" fill="none" stroke="#1c1c1c" stroke-width="1.35"/><circle cx="377.0" cy="523.2" r="0.75" fill="#1c1c1c"/>
<path d="M375.2 526.3L379.8 518.6L384.4 526.3Z" fill="none" stroke="#1c1c1c" stroke-width="1.35"/><circle cx="379.8" cy="523.2" r="0.75" fill="#1c1c1c"/>
<path d="M368.8 530.5L373.4 522.8L378.0 530.5Z" fill="none" stroke="#1c1c1c" stroke-width="1.35"/><circle cx="373.4" cy="527.4" r="0.75" fill="#1c1c1c"/>
<path d="M350.8 527.5L355.4 519.8L360.0 527.5Z" fill="none" stroke="#1c1c1c" stroke-width="1.35"/><circle cx="355.4" cy="524.4" r="0.75" fill="#1c1c1c"/>
<path d="M351.9 529.7L356.5 522.0L361.1 529.7Z" fill="none" stroke="#1c1c1c" stroke-width="1.35"/><circle cx="356.5" cy="526.6" r="0.75" fill="#1c1c1c"/>
<path d="M349.8 531.2L354.4 523.5L359.0 531.2Z" fill="none" stroke="#1c1c1c" stroke-width="1.35"/><circle cx="354.4" cy="528.1" r="0.75" fill="#1c1c1c"/>
<path d="M338.7 535.4L343.3 527.7L347.9 535.4Z" fill="none" stroke="#1c1c1c" stroke-width="1.35"/><circle cx="343.3" cy="532.3" r="0.75" fill="#1c1c1c"/>
<path d="M348.3 539.2L352.9 531.5L357.5 539.2Z" fill="none" stroke="#1c1c1c" stroke-width="1.35"/><circle cx="352.9" cy="536.1" r="0.75" fill="#1c1c1c"/>
<rect x="219.6" y="400.7" width="232.20000000000002" height="266.65000000000003" fill="none" stroke="#000" stroke-width="3.0"/><path d="M297.0 667.35v-4.5M297.0 400.7v4.5M374.4 667.35v-4.5M374.4 400.7v4.5M219.6 467.4h4.5M451.8 467.4h-4.5M219.6 534.0h4.5M451.8 534.0h-4.5M219.6 600.7h4.5M451.8 600.7h-4.5" stroke="#000" stroke-width="1.2" fill="none"/>
<rect x="225.9" y="407.5" width="130.2" height="46.5" fill="none" stroke="#222" stroke-width="1.3"/>
<rect x="246.6" y="411.9" width="7.7" height="7.7" fill="none" stroke="#f00" stroke-width="1.4"/><circle cx="250.4" cy="415.8" r="0.8" fill="#f00"/>
<circle cx="250.4" cy="431.2" r="3.7" fill="none" stroke="#00f" stroke-width="1.55"/><circle cx="250.4" cy="431.2" r="0.8" fill="#00f"/>
<path d="M245.8 449.7L250.4 442.0L255.0 449.7Z" fill="none" stroke="#1c1c1c" stroke-width="1.35"/><circle cx="250.4" cy="446.6" r="0.75" fill="#1c1c1c"/>
<text x="275.0" y="420.1" font-size="12.1" text-anchor="start" font-weight="bold">Method 1</text>
<text x="275.0" y="435.5" font-size="12.1" text-anchor="start" font-weight="bold">Method 2</text>
<text x="275.0" y="450.8" font-size="12.1" text-anchor="start" font-weight="bold">3D-RISM/KH</text>
<text x="218.8" y="685.2" font-size="14.8" text-anchor="middle" font-weight="bold" stroke="#000" stroke-width="0.3" stroke-linejoin="round">−2000</text>
<text x="296.2" y="685.2" font-size="14.8" text-anchor="middle" font-weight="bold" stroke="#000" stroke-width="0.3" stroke-linejoin="round">−1500</text>
<text x="373.6" y="685.2" font-size="14.8" text-anchor="middle" font-weight="bold" stroke="#000" stroke-width="0.3" stroke-linejoin="round">−1000</text>
<text x="451.0" y="685.2" font-size="14.8" text-anchor="middle" font-weight="bold" stroke="#000" stroke-width="0.3" stroke-linejoin="round">−500</text>
<text x="212.4" y="405.7" font-size="14.8" text-anchor="end" font-weight="bold" stroke="#000" stroke-width="0.3" stroke-linejoin="round">2000</text>
<text x="212.4" y="472.4" font-size="14.8" text-anchor="end" font-weight="bold" stroke="#000" stroke-width="0.3" stroke-linejoin="round">1000</text>
<text x="212.4" y="539.0" font-size="14.8" text-anchor="end" font-weight="bold" stroke="#000" stroke-width="0.3" stroke-linejoin="round">0</text>
<text x="212.4" y="605.7" font-size="14.8" text-anchor="end" font-weight="bold" stroke="#000" stroke-width="0.3" stroke-linejoin="round">−1000</text>
<text x="212.4" y="672.4" font-size="14.8" text-anchor="end" font-weight="bold" stroke="#000" stroke-width="0.3" stroke-linejoin="round">−2000</text>
<text transform="translate(336.9 704.3) scale(0.98 1)" font-size="14.2" text-anchor="middle" font-weight="bold" stroke="#000" stroke-width="0.8" stroke-linejoin="round">Values from ER Method [kcal/mol]</text>
<text transform="translate(165.3 548.2) rotate(-90) scale(0.98 1)" font-size="14.2" text-anchor="middle" font-weight="bold" stroke="#000" stroke-width="0.8" stroke-linejoin="round">Values from the Other Three Methods [kcal/mol]</text>
<text x="152.1" y="381.0" font-size="24.5" text-anchor="start" font-weight="bold">c</text>
</g>
</g>
</svg>
</body>
</html>
